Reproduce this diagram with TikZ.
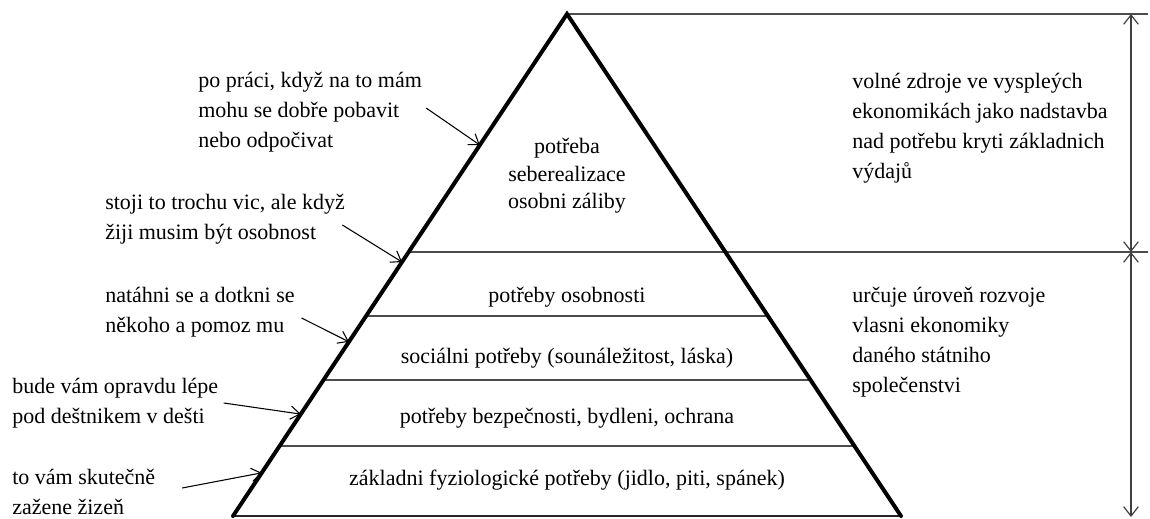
\documentclass[tikz,border=0pt]{standalone}
\usepackage{fontspec}
\setmainfont{Liberation Serif}
\usetikzlibrary{calc}
\usetikzlibrary{positioning}
\usetikzlibrary{arrows.meta}

\begin{document}
\begin{tikzpicture}[x=0.75pt,y=-0.75pt]
      \tikzset{txt/.style={font=\fontsize{16.5}{22.5}\selectfont, align=left,
        inner sep=0pt, anchor=west}};
      \tikzset{ctxt/.style={font=\fontsize{16.5}{20.6}\selectfont, align=center,
        inner sep=0pt}};
      \tikzset{hrana/.style={line width=3pt, line cap=round, line join=miter}};
      \tikzset{patro/.style={line width=1.3pt, draw=black!70}};
      \tikzset{sipka/.style={line width=0.8pt, -{Straight Barb[length=7pt,width=10pt]}}};
      \tikzset{rozmer/.style={line width=0.9pt, draw=black!75,
        {Straight Barb[length=7pt,width=11pt]}-{Straight Barb[length=7pt,width=11pt]}}};
      \useasboundingbox (0,0) rectangle (1150,518);

      \coordinate (apex) at (567,14);
      \coordinate (bl) at (233,516);
      \coordinate (br) at (901,516);

      % patra pyramidy
      \draw[patro] (apex) -- (1148,14);
      \draw[patro] ($(apex)!0.474!(bl)$) -- (1148,252);
      \foreach \t in {0.602,0.729,0.861}
        \draw[patro] ($(apex)!\t!(bl)$) -- ($(apex)!\t!(br)$);
      \draw[patro, draw=black!85] (bl) -- (br);
      \draw[hrana] (bl) -- (apex) -- (br);

      % texty v pyramide
      \node[ctxt] (c1) at (567,176) {potřeba\\seberealizace\\osobni záliby};
      \node[ctxt] (c2) at (567,297) {potřeby osobnosti};
      \node[ctxt] (c3) at (567,358) {sociálni potřeby (sounáležitost, láska)};
      \node[ctxt] (c4) at (567,418) {potřeby bezpečnosti, bydleni, ochrana};
      \node[ctxt] (c5) at (567,480) {základni fyziologické potřeby (jidlo, piti, spánek)};

      % leve popisky
      \node[txt] (n1) at (198,112) {po práci, když na to mám\\mohu se dobře pobavit\\nebo odpočivat};
      \node[txt] (n2) at (105,219) {stoji to trochu vic, ale když\\žiji musim být osobnost};
      \node[txt] (n3) at (105,312) {natáhni se a dotkni se\\někoho a pomoz mu};
      \node[txt] (n4) at (12,403) {bude vám opravdu lépe\\pod deštnikem v dešti};
      \node[txt] (n5) at (12,492) {to vám skutečně\\zažene žizeň};

      % prave popisky
      \node[txt] (r1) at (852,128) {volné zdroje ve vyspleých\\ekonomikách jako nadstavba\\nad potřebu kryti základnich\\výdajů};
      \node[txt] (r2) at (852,342) {určuje úroveň rozvoje\\vlasni ekonomiky\\daného státniho\\společenstvi};

      % body na hrane
      \coordinate (e1) at ($(apex)!0.261!(bl)$);
      \coordinate (e2) at ($(apex)!0.494!(bl)$);
      \coordinate (e3) at ($(apex)!0.653!(bl)$);
      \coordinate (e4) at ($(apex)!0.797!(bl)$);
      \coordinate (e5) at ($(apex)!0.914!(bl)$);

      \draw[sipka] ([xshift=3pt,yshift=3pt]n1.east) -- (e1);
      \draw[sipka] ([xshift=-2pt,yshift=-4.5pt]n2.east) -- (e2);
      \draw[sipka] ([xshift=5pt,yshift=-4.5pt]n3.east) -- (e3);
      \draw[sipka] ([xshift=4pt]n4.east) -- (e4);
      \draw[sipka] ([xshift=20pt,yshift=3pt]n5.east) -- (e5);

      % kota vpravo
      \coordinate (d1) at (1131,14);
      \coordinate (d2) at (1131,252);
      \coordinate (d3) at (1131,517);
      \draw[rozmer] (d1) -- (d2);
      \draw[rozmer] (d2) -- (d3);
\end{tikzpicture}
\end{document}
